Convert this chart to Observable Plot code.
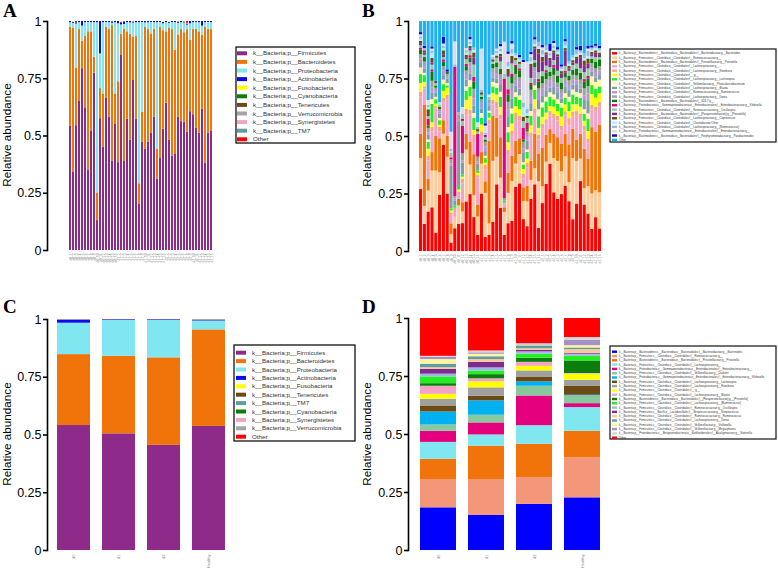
<!DOCTYPE html>
<html><head><meta charset="utf-8">
<script src="https://cdn.jsdelivr.net/npm/d3@7"></script>
<script src="https://cdn.jsdelivr.net/npm/@observablehq/plot@0.6"></script>
<style>
body{margin:0;background:#fff;}
#wrap{position:relative;width:778px;height:573px;overflow:hidden;background:#fff;font-family:"Liberation Sans",Arial,sans-serif;}
.panel{position:absolute;}
#overlay{position:absolute;left:0;top:0;}
</style></head><body><div id="wrap"></div>
<script>
// ---------- shared ----------
const samples = ["d0_1","d0_2","d0_3","d0_4","d0_5","d0_6","d0_7","d0_8","d0_9","d0_10","d0_11","d0_12","d0_13","d0_14","d0_15","d0_16",
"d1_1","d1_2","d1_3","d1_4","d1_5","d1_6","d1_7","d1_8","d1_9","d1_10","d1_11","d1_12","d1_13","d1_14","d1_15","d1_16",
"d2_1","d2_2","d2_3","d2_4","d2_5","d2_6","d2_7","d2_8","d2_9","d2_10","d2_11","d2_12","d2_13","d2_14","d2_15","d2_16"];
const groups = ["d0","d1","d2","Healthy"];
const yTicks = [0,0.25,0.5,0.75,1];
const yTickLabels = ["0","0.25","0.5","0.75","1"];
const yTitle = "Relative abundance";
const panelLetters = ["A","B","C","D"];

// ---------- panel A: phyla per sample ----------
const phylaA = ["k__Bacteria;p__Firmicutes","k__Bacteria;p__Bacteroidetes","k__Bacteria;p__Proteobacteria","k__Bacteria;p__Actinobacteria","k__Bacteria;p__Fusobacteria","k__Bacteria;p__Cyanobacteria","k__Bacteria;p__Tenericutes","k__Bacteria;p__Verrucomicrobia","k__Bacteria;p__Synergistetes","k__Bacteria;p__TM7","Other"];
const colorsA = ["#8e2a8a","#f07409","#80e6f0","#0a0af0","#ffff00","#0a7d0a","#6b4a14","#a5a5a5","#f4a3c6","#5f9ea0","#ff0000"];
const aFirm = [.54,.34,.54,.65,.79,.62,.35,.52,.77,.13,.57,.45,.66,.58,.39,.55,.38,.85,.39,.57,.48,.74,.57,.20,.47,.44,.47,.51,.58,.31,.40,.53,.64,.48,.41,.42,.58,.56,.56,.52,.60,.59,.53,.51,.61,.38,.51,.52];
const aBact = [.43,.63,.25,.31,.12,.31,.60,.43,.07,.12,.13,.23,.31,.38,.59,.13,.35,.09,.58,.38,.46,.19,.36,.09,.13,.53,.49,.43,.38,.13,.57,.43,.31,.49,.55,.45,.36,.40,.39,.45,.31,.37,.43,.44,.32,.59,.45,.44];
const aProt = [.02,.02,.19,.03,.065,.06,.04,.04,.15,.74,.15,.31,.02,.03,.01,.31,.25,.04,.02,.04,.05,.06,.06,.70,.39,.02,.03,.05,.03,.55,.02,.03,.04,.02,.03,.12,.05,.03,.04,.02,.07,.03,.03,.04,.04,.02,.03,.03];
const aActi = [.005,.005,.003,.005,.02,.005,.004,.005,.005,.005,.14,.005,.004,.005,.005,.005,.01,.01,.01,.005,.006,.004,.005,.005,.004,.006,.005,.004,.005,.005,.004,.006,.005,.004,.005,.005,.004,.005,.003,.005,.01,.005,.004,.005,.02,.005,.004,.005];
const aFuso = [0,.003,0,0,0,0,0,0,0,0,0,0,0,0,0,0,0,.005,0,0,0,0,0,0,0,0,0,0,0,0,0,.004,0,.004,0,0,0,0,0,0,0,0,0,0,0,0,0,0];
const aCyan = [0,0,0,0,0,0,0,0,0,0,0,0,0,0,.003,0,0,0,0,0,0,0,0,0,0,0,0,0,0,0,0,0,0,0,0,0,0,0,0,0,0,0,0,0,0,0,0,0];
const aTene = [0,0,.008,0,0,0,0,0,0,0,0,0,0,0,0,0,0,0,.003,0,0,0,0,0,0,0,0,0,0,0,0,0,0,0,0,0,0,0,0,0,0,0,0,0,0,0,0,0];
const aVerr = [0,0,0,0,0,0,0,0,0,0,0,0,0,0,0,0,0,0,0,0,0,0,0,0,0,0,0,0,0,0,0,0,0,0,0,0,.004,0,.006,0,0,0,0,0,0,0,0,0];
const aSyne = [0,0,0,0,0,0,0,0,0,0,0,0,0,0,0,0,0,0,0,0,0,0,0,0,0,0,0,0,0,0,0,0,0,0,0,0,0,0,0,.003,0,0,0,0,0,0,0,0];
const aTM7  = [0,0,0,0,0,0,0,0,0,0,0,0,0,0,0,0,0,0,0,0,0,.003,0,0,0,0,0,0,0,0,0,0,0,0,0,0,0,0,0,0,0,0,0,0,0,0,0,0];
const aOther= [0,0,0,0,0,0,0,0,0,0,0,0,0,0,0,0,0,0,0,0,0,0,0,0,0,0,0,0,0,0,0,0,0,0,0,0,0,0,0,.008,0,0,0,0,0,0,0,0];
const seriesA = [aFirm,aBact,aProt,aActi,aFuso,aCyan,aTene,aVerr,aSyne,aTM7,aOther];

// ---------- panel B: genera per sample ----------
const generaB = [
"k__Bacteria;p__Bacteroidetes;c__Bacteroidia;o__Bacteroidales;f__Bacteroidaceae;g__Bacteroides",
"k__Bacteria;p__Firmicutes;c__Clostridia;o__Clostridiales;f__Ruminococcaceae;g__",
"k__Bacteria;p__Bacteroidetes;c__Bacteroidia;o__Bacteroidales;f__Prevotellaceae;g__Prevotella",
"k__Bacteria;p__Firmicutes;c__Clostridia;o__Clostridiales;f__Lachnospiraceae;g__",
"k__Bacteria;p__Firmicutes;c__Clostridia;o__Clostridiales;f__Lachnospiraceae;g__Roseburia",
"k__Bacteria;p__Firmicutes;c__Clostridia;o__Clostridiales;f__;g__",
"k__Bacteria;p__Firmicutes;c__Clostridia;o__Clostridiales;f__Lachnospiraceae;g__Lachnospira",
"k__Bacteria;p__Firmicutes;c__Clostridia;o__Clostridiales;f__Veillonellaceae;g__Phascolarctobacterium",
"k__Bacteria;p__Firmicutes;c__Clostridia;o__Clostridiales;f__Lachnospiraceae;g__Blautia",
"k__Bacteria;p__Firmicutes;c__Clostridia;o__Clostridiales;f__Ruminococcaceae;g__Ruminococcus",
"k__Bacteria;p__Firmicutes;c__Clostridia;o__Clostridiales;f__Lachnospiraceae;g__Dorea",
"k__Bacteria;p__Bacteroidetes;c__Bacteroidia;o__Bacteroidales;f__S24-7;g__",
"k__Bacteria;p__Proteobacteria;c__Gammaproteobacteria;o__Enterobacteriales;f__Enterobacteriaceae;g__Klebsiella",
"k__Bacteria;p__Firmicutes;c__Clostridia;o__Clostridiales;f__Ruminococcaceae;g__Oscillospira",
"k__Bacteria;p__Bacteroidetes;c__Bacteroidia;o__Bacteroidales;f__[Paraprevotellaceae];g__[Prevotella]",
"k__Bacteria;p__Firmicutes;c__Clostridia;o__Clostridiales;f__Lachnospiraceae;g__Coprococcus",
"k__Bacteria;p__Firmicutes;c__Clostridia;o__Clostridiales;f__Clostridiaceae;Other",
"k__Bacteria;p__Firmicutes;c__Clostridia;o__Clostridiales;f__Lachnospiraceae;g__[Ruminococcus]",
"k__Bacteria;p__Proteobacteria;c__Gammaproteobacteria;o__Enterobacteriales;f__Enterobacteriaceae;g__",
"k__Bacteria;p__Bacteroidetes;c__Bacteroidia;o__Bacteroidales;f__Porphyromonadaceae;g__Parabacteroides",
"Other"];
const colorsB = ["#ff0000","#fbcb9a","#f07409","#f4a3c6","#f6a58c","#ffff00","#22ee22","#fff6a8","#7e9fa6","#b497d6","#a0a0a0","#0a7d0a","#e5007e","#8fcaa4","#7e2c8e","#6b4a14","#a8f0f8","#9db8e2","#dcdce6","#0a0ad0","#20b0ee"];
// rows = samples, columns = genera (order of generaB)
const bValues = [
[.28,.14,.11,.17,.02,.04,.04,.03,.02,.02,.02,.02,.01,.01,.01,.01,.01,.01,.01,.01,.05],
[.12,.08,.45,.07,.01,.02,.03,.01,.02,.01,.02,.02,.00,.01,.01,.01,.00,.01,.00,.01,.11],
[.17,.09,.05,.08,.02,.03,.03,.01,.02,.01,.02,.01,.03,.01,.01,.02,.01,.01,.02,.00,.34],
[.19,.16,.08,.09,.02,.02,.08,.02,.03,.02,.03,.04,.01,.02,.01,.02,.02,.01,.01,.01,.11],
[.08,.27,.15,.12,.01,.01,.02,.01,.02,.01,.01,.01,.00,.01,.00,.01,.00,.00,.00,.00,.26],
[.25,.10,.15,.03,.02,.01,.02,.01,.02,.01,.01,.01,.00,.01,.00,.00,.01,.00,.00,.00,.36],
[.47,.05,.06,.08,.02,.03,.03,.02,.02,.02,.02,.02,.01,.01,.01,.02,.01,.01,.01,.03,.07],
[.25,.16,.09,.16,.02,.03,.01,.01,.02,.01,.01,.01,.00,.00,.00,.00,.00,.00,.00,.01,.21],
[.04,.04,.05,.04,.01,.01,.01,.00,.20,.01,.02,.00,.01,.02,.00,.00,.01,.01,.08,.00,.52],
[.10,.05,.00,.03,.01,.00,.01,.00,.02,.01,.01,.00,.57,.00,.00,.00,.00,.01,.10,.00,.09],
[.12,.08,.03,.02,.01,.01,.02,.00,.28,.01,.02,.00,.00,.01,.00,.00,.00,.00,.00,.00,.40],
[.12,.05,.04,.08,.02,.01,.01,.00,.05,.01,.03,.00,.12,.02,.00,.01,.00,.02,.03,.00,.37],
[.22,.23,.07,.08,.03,.04,.04,.02,.03,.02,.02,.02,.01,.02,.01,.01,.01,.01,.01,.00,.12],
[.25,.13,.10,.12,.02,.06,.04,.03,.03,.03,.02,.02,.01,.02,.01,.01,.01,.01,.01,.01,.07],
[.14,.09,.17,.05,.03,.02,.05,.02,.03,.03,.04,.03,.02,.05,.03,.02,.01,.01,.00,.00,.11],
[.07,.08,.05,.12,.01,.01,.01,.00,.03,.01,.02,.00,.10,.01,.00,.01,.00,.01,.02,.00,.44],
[.25,.13,.05,.07,.02,.03,.03,.02,.02,.02,.02,.01,.00,.01,.00,.01,.00,.01,.18,.00,.12],
[.06,.19,.05,.05,.02,.01,.02,.01,.02,.02,.02,.01,.00,.01,.01,.00,.00,.01,.03,.01,.44],
[.07,.05,.36,.07,.02,.01,.02,.01,.02,.01,.02,.00,.00,.01,.00,.00,.00,.00,.01,.00,.32],
[.13,.27,.20,.05,.02,.03,.03,.02,.02,.02,.02,.02,.00,.01,.00,.01,.00,.01,.01,.00,.15],
[.29,.12,.17,.04,.03,.03,.03,.02,.02,.02,.03,.02,.00,.02,.00,.01,.01,.01,.01,.00,.12],
[.17,.12,.16,.07,.02,.03,.04,.02,.03,.02,.02,.02,.00,.03,.02,.01,.01,.01,.01,.01,.09],
[.07,.10,.02,.02,.00,.00,.01,.00,.01,.00,.00,.00,.52,.01,.00,.00,.00,.01,.14,.00,.09],
[.11,.12,.08,.07,.02,.03,.04,.02,.04,.03,.03,.03,.02,.05,.01,.02,.01,.02,.03,.01,.12],
[.12,.16,.10,.08,.02,.03,.04,.02,.04,.03,.03,.03,.01,.04,.01,.02,.01,.02,.02,.01,.08],
[.28,.10,.10,.09,.03,.03,.04,.02,.03,.02,.03,.03,.01,.02,.00,.01,.01,.01,.00,.00,.14],
[.30,.13,.07,.08,.02,.03,.04,.02,.03,.03,.02,.03,.01,.02,.00,.01,.01,.01,.00,.01,.15],
[.14,.08,.06,.04,.02,.02,.02,.01,.04,.02,.03,.01,.05,.03,.00,.02,.04,.02,.18,.01,.17],
[.11,.11,.07,.08,.02,.02,.03,.01,.04,.02,.02,.01,.03,.02,.00,.01,.01,.02,.21,.00,.18],
[.22,.08,.08,.10,.02,.03,.04,.02,.03,.03,.03,.02,.01,.02,.05,.01,.01,.02,.01,.01,.13],
[.29,.07,.15,.09,.02,.04,.04,.02,.03,.03,.02,.02,.00,.01,.05,.01,.01,.02,.00,.01,.07],
[.10,.20,.12,.06,.02,.03,.05,.03,.04,.03,.02,.03,.01,.03,.08,.02,.01,.02,.00,.00,.09],
[.20,.07,.16,.08,.02,.03,.04,.02,.03,.03,.02,.03,.00,.02,.04,.02,.01,.02,.01,.01,.10],
[.30,.10,.12,.05,.02,.03,.05,.02,.03,.02,.03,.03,.01,.02,.05,.01,.01,.02,.00,.00,.11],
[.38,.09,.06,.06,.02,.02,.04,.02,.02,.03,.02,.02,.00,.02,.03,.01,.01,.01,.01,.03,.10],
[.24,.14,.10,.06,.02,.03,.03,.02,.03,.02,.03,.03,.01,.02,.03,.01,.01,.01,.01,.01,.08],
[.22,.16,.10,.07,.02,.02,.03,.02,.03,.02,.02,.03,.00,.02,.06,.01,.01,.01,.00,.01,.11],
[.25,.10,.12,.06,.02,.04,.04,.02,.02,.02,.02,.03,.00,.02,.02,.01,.01,.01,.00,.01,.19],
[.29,.13,.10,.08,.02,.03,.03,.02,.03,.02,.02,.02,.01,.02,.07,.01,.01,.02,.00,.01,.08],
[.21,.08,.16,.08,.03,.03,.04,.02,.03,.02,.02,.02,.00,.02,.01,.01,.01,.01,.00,.00,.17],
[.13,.25,.12,.05,.02,.03,.04,.02,.02,.02,.02,.02,.00,.02,.01,.01,.01,.01,.00,.00,.14],
[.20,.18,.09,.10,.02,.03,.03,.02,.03,.02,.02,.03,.00,.02,.02,.01,.01,.02,.00,.01,.11],
[.31,.10,.11,.07,.02,.03,.04,.02,.02,.02,.02,.03,.00,.02,.05,.01,.01,.01,.00,.02,.11],
[.20,.07,.17,.08,.02,.02,.03,.02,.04,.02,.03,.03,.01,.03,.03,.02,.01,.02,.00,.00,.14],
[.15,.11,.11,.06,.02,.03,.05,.02,.05,.03,.03,.03,.01,.03,.02,.02,.01,.02,.01,.01,.10],
[.10,.16,.30,.08,.02,.05,.04,.04,.02,.02,.02,.02,.00,.01,.01,.01,.01,.01,.00,.01,.11],
[.15,.12,.26,.09,.02,.04,.04,.03,.02,.02,.02,.03,.00,.02,.02,.01,.01,.01,.00,.01,.10],
[.10,.16,.30,.08,.02,.04,.03,.03,.02,.02,.02,.03,.00,.01,.01,.01,.01,.01,.00,.01,.11]];

// ---------- panel C: phyla per group ----------
const phylaC = ["k__Bacteria;p__Firmicutes","k__Bacteria;p__Bacteroidetes","k__Bacteria;p__Proteobacteria","k__Bacteria;p__Actinobacteria","k__Bacteria;p__Fusobacteria","k__Bacteria;p__Tenericutes","k__Bacteria;p__TM7","k__Bacteria;p__Cyanobacteria","k__Bacteria;p__Synergistetes","k__Bacteria;p__Verrucomicrobia","Other"];
const colorsC = ["#8e2a8a","#f07409","#80e6f0","#0a0af0","#ffff00","#6b4a14","#5f9ea0","#0a7d0a","#f4a3c6","#a5a5a5","#ff0000"];
const cValues = [
[.541,.505,.455,.537],
[.307,.336,.379,.418],
[.136,.155,.162,.038],
[.014,.003,.003,.002],
[.001,0,0,0],
[0,0,0,.001],
[0,0,0,0],
[0,0,0,0],
[0,0,0,0],
[.001,.001,.001,.004],
[0,0,0,0]];

// ---------- panel D: genera per group ----------
const generaD = [
"k__Bacteria;p__Bacteroidetes;c__Bacteroidia;o__Bacteroidales;f__Bacteroidaceae;g__Bacteroides",
"k__Bacteria;p__Firmicutes;c__Clostridia;o__Clostridiales;f__Ruminococcaceae;g__",
"k__Bacteria;p__Bacteroidetes;c__Bacteroidia;o__Bacteroidales;f__Prevotellaceae;g__Prevotella",
"k__Bacteria;p__Firmicutes;c__Clostridia;o__Clostridiales;f__Lachnospiraceae;g__",
"k__Bacteria;p__Proteobacteria;c__Gammaproteobacteria;o__Enterobacteriales;f__Enterobacteriaceae;g__",
"k__Bacteria;p__Firmicutes;c__Clostridia;o__Clostridiales;f__Veillonellaceae;g__Dialister",
"k__Bacteria;p__Proteobacteria;c__Gammaproteobacteria;o__Enterobacteriales;f__Enterobacteriaceae;g__Klebsiella",
"k__Bacteria;p__Firmicutes;c__Clostridia;o__Clostridiales;f__Lachnospiraceae;g__Lachnospira",
"k__Bacteria;p__Firmicutes;c__Clostridia;o__Clostridiales;f__Lachnospiraceae;g__Roseburia",
"k__Bacteria;p__Firmicutes;c__Clostridia;o__Clostridiales;f__;g__",
"k__Bacteria;p__Firmicutes;c__Clostridia;o__Clostridiales;f__Lachnospiraceae;g__Blautia",
"k__Bacteria;p__Bacteroidetes;c__Bacteroidia;o__Bacteroidales;f__[Paraprevotellaceae];g__[Prevotella]",
"k__Bacteria;p__Firmicutes;c__Clostridia;o__Clostridiales;f__Lachnospiraceae;g__[Ruminococcus]",
"k__Bacteria;p__Firmicutes;c__Clostridia;o__Clostridiales;f__Ruminococcaceae;g__Oscillospira",
"k__Bacteria;p__Firmicutes;c__Bacilli;o__Lactobacillales;f__Streptococcaceae;g__Streptococcus",
"k__Bacteria;p__Firmicutes;c__Clostridia;o__Clostridiales;f__Ruminococcaceae;g__Ruminococcus",
"k__Bacteria;p__Firmicutes;c__Clostridia;o__Clostridiales;f__Lachnospiraceae;g__Dorea",
"k__Bacteria;p__Firmicutes;c__Clostridia;o__Clostridiales;f__Veillonellaceae;g__Veillonella",
"k__Bacteria;p__Firmicutes;c__Clostridia;o__Clostridiales;f__Veillonellaceae;g__Megasphaera",
"k__Bacteria;p__Proteobacteria;c__Betaproteobacteria;o__Burkholderiales;f__Alcaligenaceae;g__Sutterella",
"Other"];
const colorsD = ["#0000ff","#f4967a","#f07409","#80e6f0","#e5007e","#86c99c","#00b0f0","#6b4a14","#a0a0a0","#ffff00","#f4a3c6","#0a7d0a","#22ee22","#9db8e2","#7e2c8e","#f9c89b","#5f9ea0","#fff4a0","#a890c8","#d6d6d6","#ff0000"];
const dValues = [
[.184,.151,.199,.227],
[.122,.155,.115,.173],
[.087,.144,.144,.114],
[.073,.048,.080,.102],
[.048,.052,.128,.017],
[.027,.033,.042,.033],
[.056,.062,.019,.003],
[.026,.020,.021,.040],
[.029,.036,.026,.025],
[.021,.026,.020,.026],
[.035,.013,.017,.003],
[.011,.018,.018,.054],
[.029,.015,.017,.020],
[.012,.014,.010,.009],
[.021,.024,.007,.003],
[.007,.012,.007,.017],
[.015,.012,.012,.007],
[.020,.011,.004,.010],
[.009,.006,.005,.023],
[.005,.008,.001,.012],
[.163,.140,.108,.082]];

// ---------- build tables ----------
const dataA = phylaA.flatMap((t,i) => samples.map((s,j) => ({x:s, taxon:t, value:seriesA[i][j]})));
const dataB = generaB.flatMap((t,i) => samples.map((s,j) => ({x:s, taxon:t, value:bValues[j][i]})));
const dataC = phylaC.flatMap((t,i) => groups.map((g,j) => ({x:g, taxon:t, value:cValues[i][j]})));
const dataD = generaD.flatMap((t,i) => groups.map((g,j) => ({x:g, taxon:t, value:dValues[i][j]})));

const wrap = document.getElementById("wrap");
const FONT = "Liberation Sans, Arial, sans-serif";

function panel({data, domain, taxa, colors, left, top, width, height, mt, mb, ml, mr, inset, pad, xFont, xPad}) {
  const chart = Plot.plot({
    width, height, marginTop: mt, marginBottom: mb, marginLeft: ml, marginRight: mr,
    style: {fontFamily: FONT, background: "transparent", overflow: "visible"},
    x: {domain, insetLeft: inset, paddingInner: pad, paddingOuter: 0, label: null},
    y: {domain: [0,1], label: null},
    color: {domain: taxa, range: colors},
    marks: [
      Plot.barY(data, Plot.stackY({x: "x", y: "value", fill: "taxon", offset: "normalize"})),
      Plot.frame({anchor: "left", strokeWidth: 1.6}),
      Plot.axisY({ticks: yTicks, tickFormat: d => yTickLabels[yTicks.indexOf(d)], tickSize: 4, tickPadding: 2, fontSize: 12.5, strokeWidth: 1.6, label: null}),
      Plot.axisX({tickSize: 0, tickRotate: -90, fontSize: xFont, tickPadding: xPad, fill: "#888", label: null})
    ]
  });
  const div = document.createElement("div");
  div.className = "panel";
  div.style.left = left + "px"; div.style.top = top + "px";
  div.appendChild(chart);
  wrap.appendChild(div);
}

panel({data: dataA, domain: samples, taxa: phylaA, colors: colorsA, left: 0, top: 0, width: 232, height: 280, mt: 21, mb: 30, ml: 47, mr: 5, inset: 8, pad: 0.18, xFont: 3.2, xPad: 3});
panel({data: dataB, domain: samples, taxa: generaB, colors: colorsB, left: 360, top: 0, width: 418, height: 280, mt: 21, mb: 29, ml: 48, mr: 177, inset: 11, pad: 0.18, xFont: 3.2, xPad: 3});
panel({data: dataC, domain: groups, taxa: phylaC, colors: colorsC, left: 0, top: 280, width: 232, height: 293, mt: 39, mb: 23, ml: 47, mr: 5, inset: 8, pad: 0.26, xFont: 4, xPad: 4});
panel({data: dataD, domain: groups, taxa: generaD, colors: colorsD, left: 360, top: 280, width: 418, height: 293, mt: 38, mb: 23, ml: 48, mr: 178, inset: 11, pad: 0.26, xFont: 4, xPad: 4});

// ---------- overlay: letters, axis titles, legends ----------
const svg = d3.select(wrap).append("svg").attr("id","overlay").attr("width",778).attr("height",573);
const letterPos = [[3,17],[362,17],[3,313],[362,313]];
panelLetters.forEach((l,i) => svg.append("text").attr("x",letterPos[i][0]).attr("y",letterPos[i][1])
  .attr("font-family","Liberation Serif, Times New Roman, serif").attr("font-weight","bold").attr("font-size",19).text(l));
const titlePos = [[11,135],[371,135],[11,434],[371,434]];
titlePos.forEach(([x,y]) => svg.append("text").attr("transform",`translate(${x},${y}) rotate(-90)`)
  .attr("text-anchor","middle").attr("font-family",FONT).attr("font-size",11.7).text(yTitle));

function legend({x, y, w, h, row0, step, swX, swW, swH, txX, fs, labels, colors, sw}) {
  const g = svg.append("g");
  g.append("rect").attr("x",x).attr("y",y).attr("width",w).attr("height",h).attr("fill","#fff").attr("stroke","#111").attr("stroke-width",sw);
  labels.forEach((t,i) => {
    const cy = row0 + i*step;
    g.append("rect").attr("x",swX).attr("y",cy-swH/2).attr("width",swW).attr("height",swH).attr("fill",colors[i]);
    g.append("text").attr("x",txX).attr("y",cy).attr("dy","0.35em").attr("font-family",FONT).attr("font-size",fs).attr("fill","#333").text(t);
  });
}
legend({x:236, y:47, w:119, h:96, row0:53.3, step:8.6, swX:237, swW:10, swH:4, txX:253, fs:6.2, labels:phylaA, colors:colorsA, sw:1.3});
legend({x:234, y:345, w:121, h:96, row0:352.7, step:8.4, swX:236, swW:10, swH:4, txX:252, fs:6.2, labels:phylaC, colors:colorsC, sw:1.3});
legend({x:610, y:49, w:166, h:93, row0:53.3, step:4.33, swX:612, swW:5, swH:2.4, txX:619, fs:2.75, labels:generaB, colors:colorsB, sw:1.2});
legend({x:610, y:346, w:166, h:93, row0:351.7, step:4.3, swX:612, swW:5, swH:2.4, txX:619, fs:2.8, labels:generaD, colors:colorsD, sw:1.2});
</script></body></html>
